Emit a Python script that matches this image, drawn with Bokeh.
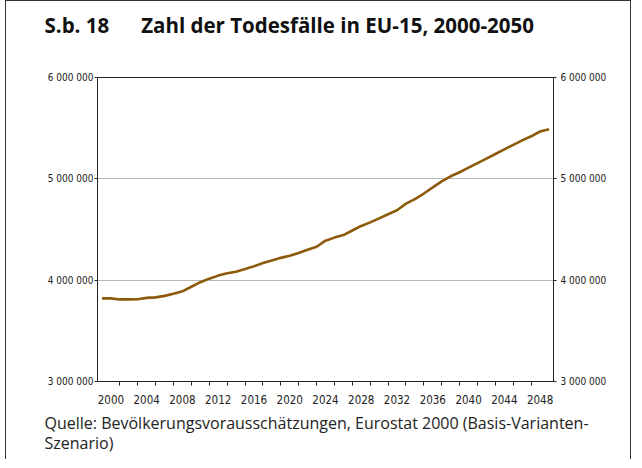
from bokeh.plotting import figure
from bokeh.models import Range1d, LinearAxis, FixedTicker, Title
from bokeh.embed import file_html
from bokeh.resources import INLINE

# ---- data -------------------------------------------------------------
years = list(range(2000, 2051))
deaths = [
    3820000, 3820000, 3810000, 3810000, 3812000, 3825000, 3830000, 3845000,
    3865000, 3890000, 3935000, 3980000, 4015000, 4045000, 4068000, 4084000,
    4110000, 4137000, 4170000, 4195000, 4220000, 4240000, 4268000, 4300000,
    4330000, 4390000, 4420000, 4445000, 4490000, 4535000, 4570000, 4610000,
    4650000, 4690000, 4755000, 4800000, 4855000, 4915000, 4975000, 5025000,
    5065000, 5110000, 5155000, 5200000, 5245000, 5290000, 5335000, 5380000,
    5420000, 5467000, 5490000,
]
y_ticks = [3000000, 4000000, 5000000, 6000000]
y_tick_labels = ["3 000 000", "4 000 000", "5 000 000", "6 000 000"]
x_label_years = [2000, 2004, 2008, 2012, 2016, 2020, 2024, 2028, 2032,
                 2036, 2040, 2044, 2048]
x_tick_years = list(range(2002, 2049, 2))
title_text = "S.b. 18\u00a0\u00a0\u00a0\u00a0\u00a0\u00a0Zahl der Todesfälle in EU-15, 2000-2050"
source_text = ("Quelle: Bevölkerungsvorausschätzungen, Eurostat 2000 (Basis-Varianten-\n"
               "Szenario)")

# ---- styling -----------------------------------------------------------
LINE_COLOR = "#8C5A0A"
AXIS_COLOR = "#222222"
GRID_COLOR = "#b8b8b8"
TICK_FONT = "DejaVu Sans Condensed"

p = figure(
    width=626, height=459,
    x_range=Range1d(1999.5, 2050.5),
    y_range=Range1d(3000000, 6000000),
    output_backend="svg", toolbar_location=None,
    min_border_left=91, min_border_right=79,
    min_border_top=76, min_border_bottom=79,
    title=None,
)
p.background_fill_color = "white"
p.outline_line_color = AXIS_COLOR
p.outline_line_width = 1
p.styles = {"margin-left": "5px",
            "border-left": "1px solid #333",
            "border-right": "1px solid #333",
            "border-top": "1px solid #333"}

# spacer between frame and title, then the title itself
spacer = Title(text=" ", text_font_size="1px", standoff=36)
p.add_layout(spacer, "above")
main_title = Title(text=title_text, align="left", offset=-53, standoff=0,
                   text_font="Open Sans", text_font_style="bold",
                   text_font_size="20.5px", text_color="#111111")
p.add_layout(main_title, "above")

# line
p.line(years, deaths, line_color=LINE_COLOR, line_width=2.6)

# x axis
xa = p.xaxis[0]
xa.ticker = FixedTicker(ticks=[y + 1 for y in x_label_years], minor_ticks=x_tick_years)
xa.major_label_overrides = {y + 1: str(y) for y in x_label_years}
xa.major_tick_out = 0
xa.major_tick_in = 0
xa.minor_tick_out = 4
xa.minor_tick_in = 0
xa.minor_tick_line_color = AXIS_COLOR
xa.axis_line_color = AXIS_COLOR
xa.major_label_standoff = 9
xa.major_label_text_font = TICK_FONT
xa.major_label_text_font_size = "11.5px"
xa.major_label_text_color = "#222222"

# y axes
y_over = dict(zip(y_ticks, y_tick_labels))
ya = p.yaxis[0]
ya.ticker = FixedTicker(ticks=y_ticks, minor_ticks=[])
ya.major_label_overrides = y_over
ya.major_tick_out = 3
ya.major_tick_in = 0
ya.minor_tick_out = 0
ya.minor_tick_in = 0
ya.axis_line_color = AXIS_COLOR
ya.major_tick_line_color = AXIS_COLOR
ya.major_label_standoff = 1
ya.major_label_text_font = TICK_FONT
ya.major_label_text_font_size = "10px"
ya.major_label_text_color = "#222222"

yr = LinearAxis(ticker=FixedTicker(ticks=y_ticks, minor_ticks=[]),
                major_label_overrides=y_over)
yr.major_tick_out = 3
yr.major_tick_in = 0
yr.minor_tick_out = 0
yr.minor_tick_in = 0
yr.axis_line_color = AXIS_COLOR
yr.major_tick_line_color = AXIS_COLOR
yr.major_label_standoff = 4
yr.major_label_text_font = TICK_FONT
yr.major_label_text_font_size = "10px"
yr.major_label_text_color = "#222222"
p.add_layout(yr, "right")

# grid
p.xgrid.visible = False
p.ygrid.ticker = FixedTicker(ticks=[4000000, 5000000])
p.ygrid.grid_line_color = GRID_COLOR
p.ygrid.grid_line_width = 1

# source note (two lines)
src = Title(text=source_text, align="left", offset=-53, standoff=8,
            text_font="Open Sans", text_font_style="normal",
            text_font_size="16px", text_line_height=0.92, text_color="#222222")
p.add_layout(src, "below")

open("out.html", "w").write(file_html(p, INLINE))
